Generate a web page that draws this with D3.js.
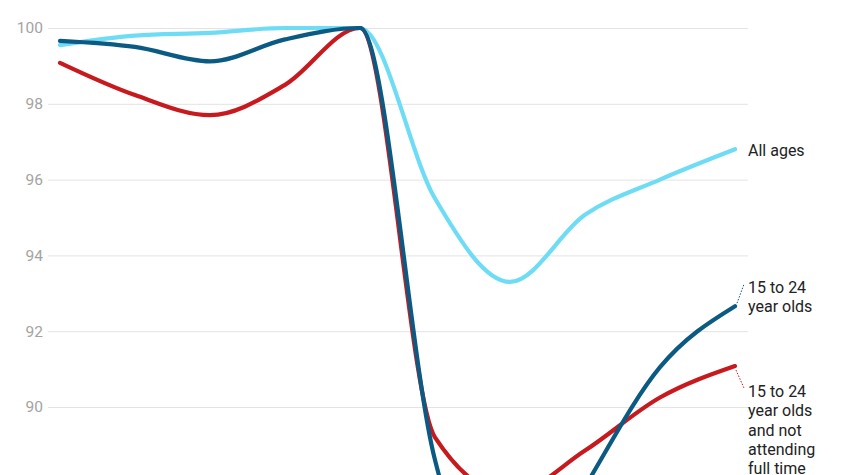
<!DOCTYPE html>
<html><head><meta charset="utf-8">
<script src="https://cdn.jsdelivr.net/npm/d3@7"></script>
<style>
html,body{margin:0;padding:0;background:#fff;overflow:hidden;}
svg{display:block;font-family:Roboto,"Noto Sans",sans-serif;}
</style></head>
<body>
<svg id="c" width="850" height="475"></svg>
<script>
const categories = ["1","2","3","4","5","6","7","8","9","10"];
const allAges    = [99.55, 99.8, 99.87, 100.0, 100.0, 95.5, 93.3, 95.07, 96.0, 96.8];
const youth      = [99.66, 99.5, 99.12, 99.7, 100.0, 88.6, 84.5, 87.9, 91.05, 92.66];
const youthNotFT = [99.08, 98.23, 97.7, 98.5, 100.0, 89.2, 87.7, 88.85, 90.25, 91.08];
const yTicks = [90, 92, 94, 96, 98, 100];
const seriesNames = ["All ages", "15 to 24 year olds", "15 to 24 year olds and not attending full time"];

const svg = d3.select("#c");
const x = d3.scaleLinear().domain([0, categories.length - 1]).range([60, 735]);
const y = d3.scaleLinear().domain([90, 100]).range([407, 28]);

// gridlines + tick labels
const yAxis = d3.axisLeft(y).tickValues(yTicks).tickSize(-700).tickPadding(5).tickFormat(d3.format("d"));
const g = svg.append("g").attr("transform", "translate(48,0)").call(yAxis);
g.select(".domain").remove();
g.selectAll(".tick line").attr("stroke", "#e3e3e3").attr("stroke-width", 1);
g.selectAll(".tick text").attr("fill", "#a3a3a3").attr("font-size", 15.5).attr("font-family", "Roboto, sans-serif");

const line = d3.line().x((d, i) => x(i)).y(d => y(d)).curve(d3.curveMonotoneX);

const series = [
  {vals: allAges, color: "#6fdcf5"},
  {vals: youthNotFT, color: "#c61a1f"},
  {vals: youth, color: "#0b5a83"}
];
svg.selectAll("path.s").data(series).enter().append("path")
  .attr("class", "s")
  .attr("d", d => line(d.vals))
  .attr("fill", "none")
  .attr("stroke", d => d.color)
  .attr("stroke-width", 4.2)
  .attr("stroke-linecap", "round")
  .attr("stroke-linejoin", "round");

// labels
const last = categories.length - 1;
const lx = 748;
function label(lines, y0) {
  const t = svg.append("text").attr("x", lx).attr("y", y0).attr("fill", "#222").attr("font-size", 16);
  lines.forEach((l, i) => t.append("tspan").attr("x", lx).attr("dy", i === 0 ? 0 : 19.3).text(l));
}
label(["All ages"], y(allAges[last]) + 7);

// connectors
svg.append("line").attr("x1", x(last) + 2).attr("y1", y(youth[last]) - 3)
  .attr("x2", x(last) + 9).attr("y2", y(youth[last]) - 22)
  .attr("stroke", "#0b5a83").attr("stroke-width", 1).attr("stroke-dasharray", "1.5,1.5");
svg.append("line").attr("x1", x(last) + 1).attr("y1", y(youthNotFT[last]) + 4)
  .attr("x2", x(last) + 9).attr("y2", y(youthNotFT[last]) + 22)
  .attr("stroke", "#c61a1f").attr("stroke-width", 1).attr("stroke-dasharray", "1.5,1.5");

label(["15 to 24", "year olds"], y(youth[last]) - 13);
label(["15 to 24", "year olds", "and not", "attending", "full time"], y(youthNotFT[last]) + 31);
</script>
</body></html>
